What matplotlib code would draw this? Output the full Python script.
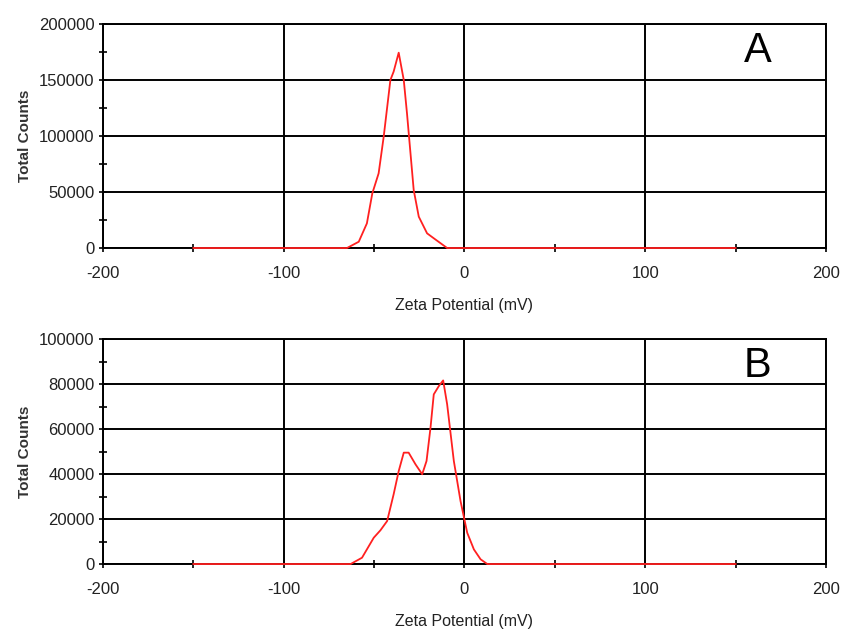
import matplotlib
matplotlib.use("Agg")
import matplotlib.pyplot as plt
from matplotlib.ticker import MultipleLocator

plt.rcParams['font.family'] = ['Liberation Sans', 'DejaVu Sans']
plt.rcParams['axes.unicode_minus'] = False

# Sample A
zeta_a = [-150, -65, -58.5, -54, -51, -47.5, -44.7, -41, -39.2, -36.4, -33.6, -31.8,
          -28.1, -25.3, -20.7, -17, -9.6, 150]
counts_a = [0, 0, 5600, 22000, 48800, 66700, 99400, 150000, 157500, 174400, 150000,
            120000, 51800, 28000, 13100, 8700, 0, 0]

# Sample B
zeta_b = [-150, -63, -56.7, -50.2, -46.5, -42.8, -39.2, -36.4, -33.6, -30.9, -27.1,
          -23.4, -21, -18.8, -17, -14.2, -11.8, -9.6, -5.9, -2.2, 1.5, 5.2, 8.9,
          12.6, 150]
counts_b = [0, 0, 2800, 11700, 15000, 19100, 31000, 41300, 49500, 49500, 44300,
            39900, 45800, 60600, 75400, 79100, 81600, 71000, 45800, 28000, 13900,
            6500, 2100, 0, 0]

panels = [
    (zeta_a, counts_a, 200000, 50000, 25000, "A", [0.1216, 0.6057, 0.8536, 0.3561]),
    (zeta_b, counts_b, 100000, 20000, 10000, "B", [0.1216, 0.1033, 0.8536, 0.3577]),
]

fig = plt.figure(figsize=(8.47, 6.29), dpi=100)
for zx, cy, ymax, ymaj, ymin, lab, rect in panels:
    ax = fig.add_axes(rect)
    ax.plot(zx, cy, color="#ff2020", lw=1.3, zorder=5, clip_on=False)
    ax.set_xlim(-200, 200)
    ax.set_ylim(0, ymax)
    ax.xaxis.set_major_locator(MultipleLocator(100))
    ax.xaxis.set_minor_locator(MultipleLocator(50))
    ax.yaxis.set_major_locator(MultipleLocator(ymaj))
    ax.yaxis.set_minor_locator(MultipleLocator(ymin))
    ax.grid(True, which="major", color="black", lw=1.4)
    for s in ax.spines.values():
        s.set_color("black")
        s.set_linewidth(1.4)
    ax.tick_params(which="major", direction="inout", length=6, width=1.2,
                   labelsize=12, labelcolor="#222222")
    ax.tick_params(axis="x", which="major", pad=10)
    ax.tick_params(axis="y", which="major", pad=3)
    ax.tick_params(which="minor", direction="inout", length=6, width=1.2)
    ax.set_xlabel("Zeta Potential (mV)", fontsize=11.5, color="#222222", labelpad=12)
    ax.set_ylabel("Total Counts", fontsize=11, fontweight="bold", color="#333333",
                  labelpad=5)
    ax.text(0.905, 0.88, lab, transform=ax.transAxes, fontsize=30,
            ha="center", va="center")

fig.savefig("out.png", dpi=100)
